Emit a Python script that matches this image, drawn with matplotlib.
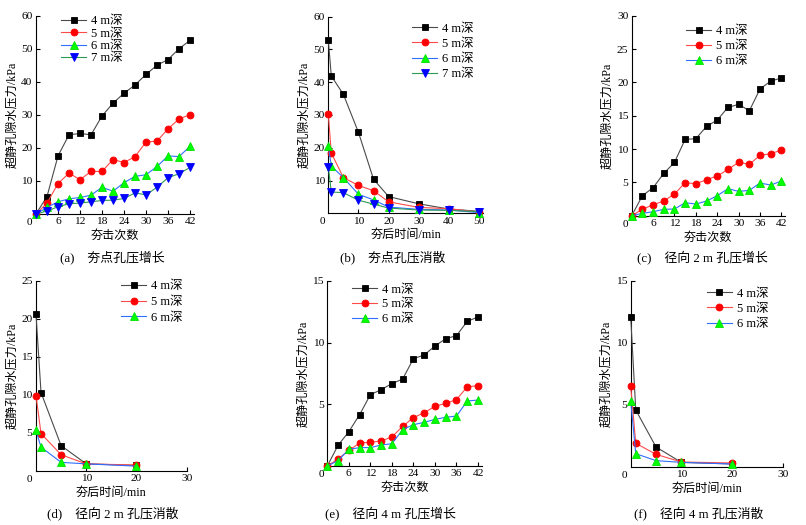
import matplotlib
matplotlib.use("Agg")
import matplotlib.pyplot as plt

plt.rcParams['font.family'] = ['Liberation Serif', 'Noto Sans CJK SC', 'DejaVu Sans']
plt.rcParams['axes.unicode_minus'] = False

# ---------------- data ----------------
blow_x = [0, 3, 6, 9, 12, 15, 18, 21, 24, 27, 30, 33, 36, 39, 42]
time_b_x = [0, 1, 5, 10, 15, 20, 30, 40, 50]
time_df_x = [0, 1, 5, 10, 20]

labels4 = ['4 m深', '5 m深', '6 m深', '7 m深']

a_4 = [0, 5.3, 17.6, 24.0, 24.4, 24.0, 29.7, 33.6, 36.6, 39.1, 42.3, 45.1, 46.8, 50.1, 52.6]
a_5 = [0, 3.3, 9.2, 12.4, 10.4, 12.9, 12.9, 16.5, 15.6, 17.4, 21.8, 22.1, 25.8, 28.8, 30.1]
a_6 = [0, 2.0, 3.7, 4.6, 5.0, 5.7, 8.1, 6.9, 9.5, 11.4, 11.9, 14.4, 17.6, 17.4, 20.5]
a_7 = [0, 0.9, 2.2, 3.1, 3.3, 3.7, 4.1, 4.2, 4.7, 6.4, 5.8, 8.1, 11.0, 12.2, 14.1]

b_4 = [52.8, 41.9, 36.3, 24.7, 10.4, 5.1, 2.9, 1.3, 0.6]
b_5 = [30.2, 18.4, 10.9, 8.5, 6.9, 3.5, 1.8, 1.4, 0.4]
b_6 = [20.5, 14.4, 10.9, 5.8, 4.1, 1.9, 1.2, 1.0, 0.2]
b_7 = [14.2, 6.5, 6.3, 4.0, 2.8, 1.6, 1.0, 0.9, 0.5]

c_4 = [0, 3.0, 4.2, 6.35, 8.0, 11.45, 11.55, 13.4, 14.35, 16.25, 16.7, 15.75, 19.0, 20.2, 20.65]
c_5 = [0, 0.95, 1.65, 2.2, 3.25, 4.95, 4.8, 5.4, 5.95, 6.95, 8.0, 7.7, 9.05, 9.3, 9.85]
c_6 = [0, 0.35, 0.6, 0.95, 1.0, 1.95, 1.75, 2.2, 3.0, 4.05, 3.65, 3.8, 4.9, 4.6, 5.2]

d_4 = [20.6, 10.3, 3.3, 0.9, 0.7]
d_5 = [9.9, 4.9, 2.1, 0.9, 0.75]
d_6 = [5.3, 3.1, 1.1, 0.9, 0.6]

e_4 = [0, 1.68, 2.78, 4.16, 5.78, 6.19, 6.68, 7.05, 8.7, 9.0, 9.73, 10.32, 10.57, 11.73, 12.08]
e_5 = [0, 0.57, 1.27, 1.86, 1.92, 2.03, 2.35, 3.22, 3.92, 4.32, 4.84, 5.08, 5.38, 6.43, 6.51]
e_6 = [0, 0.43, 1.35, 1.49, 1.49, 1.70, 1.81, 2.95, 3.35, 3.54, 3.78, 3.95, 4.05, 5.27, 5.35]

f_4 = [12.1, 4.58, 1.59, 0.35, 0.22]
f_5 = [6.5, 1.89, 1.0, 0.38, 0.30]
f_6 = [5.31, 1.05, 0.49, 0.35, 0.22]

ylabel = '超静孔隙水压力/kPa'
xlabel_blow = '夯击次数'
xlabel_time = '夯后时间/min'

captions = ['(a)　夯点孔压增长', '(b)　夯点孔压消散', '(c)　径向 2 m 孔压增长',
            '(d)　径向 2 m 孔压消散', '(e)　径向 4 m 孔压增长', '(f)　径向 4 m 孔压消散']

styles = [
    dict(color='#4a4a4a', marker='s', mfc='black', mec='black', ms=4.4),
    dict(color='#ff4a4a', marker='o', mfc='#ff0000', mec='#ff0000', ms=5.0),
    dict(color='#2f6fff', marker='^', mfc='#00ff00', mec='#00e000', ms=5.4),
    dict(color='#2f9a55', marker='v', mfc='#0000ff', mec='#0000ff', ms=5.4),
]

W, H = 806, 525
fig = plt.figure(figsize=(W / 100, H / 100), dpi=100)


def make_ax(left, right, top, bottom):
    return fig.add_axes([left / W, 1 - bottom / H, (right - left) / W, (bottom - top) / H])


panels = [
    ((36, 193.7, 16, 214), 43, 60, [6, 12, 18, 24, 30, 36, 42], [10, 20, 30, 40, 50, 60],
     blow_x, [a_4, a_5, a_6, a_7], xlabel_blow, (61, 21, 12.5), (112, 257)),
    ((328.3, 483.3, 16.7, 213.3), 51.4, 60, [10, 20, 30, 40, 50], [10, 20, 30, 40, 50, 60],
     time_b_x, [b_4, b_5, b_6, b_7], xlabel_time, (412, 28.5, 15.3), (393, 257)),
    ((631.7, 785, 15.7, 215.7), 43, 30, [6, 12, 18, 24, 30, 36, 42], [5, 10, 15, 20, 25, 30],
     blow_x, [c_4, c_5, c_6], xlabel_blow, (686, 31, 15), (702, 257)),
    ((36, 186.7, 281, 470.7), 30, 25, [10, 20, 30], [5, 10, 15, 20, 25],
     time_df_x, [d_4, d_5, d_6], xlabel_time, (121, 286.5, 15.5), (112.5, 513)),
    ((327.3, 481.6, 281, 466), 43, 15, [6, 12, 18, 24, 30, 36, 42], [5, 10, 15],
     blow_x, [e_4, e_5, e_6], xlabel_blow, (352.3, 289.5, 14.7), (390, 513)),
    ((630.7, 782.7, 281, 466.7), 30, 15, [10, 20, 30], [5, 10, 15],
     time_df_x, [f_4, f_5, f_6], xlabel_time, (706.7, 293.5, 15.3), (699, 513)),
]

FS = 8.2
LFS = 9.0

for k, (rect, xmax, ymax, xt, yt, xs, series, xl, leg, cap) in enumerate(panels):
    l, r, t, b = rect
    ax = make_ax(l, r, t, b)
    wpx, hpx = r - l, b - t
    handles = []
    for i, ys in enumerate(series):
        st = styles[i]
        h, = ax.plot(xs, ys, color=st['color'], lw=0.8, marker=st['marker'],
                     markerfacecolor=st['mfc'], markeredgecolor=st['mec'],
                     markersize=st['ms'], markeredgewidth=0.6, clip_on=False, zorder=3)
        handles.append(h)
    ax.set_xlim(0, xmax)
    ax.set_ylim(0, ymax)
    ax.set_xticks(xt)
    ax.set_yticks(yt)
    for s in ['top', 'right']:
        ax.spines[s].set_visible(False)
    for s in ['left', 'bottom']:
        ax.spines[s].set_linewidth(0.8)
    ax.tick_params(direction='in', length=3, width=0.8, labelsize=FS, pad=2.5, colors='black')
    ax.annotate('0', xy=(0, 0), xycoords='axes fraction', xytext=(-4.5, -2.8),
                textcoords='offset points', ha='center', va='top', fontsize=FS)
    ax.set_ylabel(ylabel, fontsize=8.7, labelpad=0)
    ax.yaxis.set_label_coords(-24 / wpx, 0.5)
    ax.set_xlabel(xl, fontsize=8.7, labelpad=0)
    ax.xaxis.set_label_coords(0.5, -22 / hpx)
    ax.xaxis.label.set_va('center')
    ax.yaxis.label.set_va('center')

    lx, ly, dy = leg
    fpx = LFS * 100 / 72
    row_h = 0.96 * fpx
    ax.legend(handles, labels4[:len(series)], loc='upper left',
              bbox_to_anchor=((lx - l) / wpx, 1 - (ly - row_h / 2 - t) / hpx),
              frameon=False, fontsize=LFS, borderpad=0, borderaxespad=0,
              handlelength=25 / fpx, handletextpad=0.4,
              labelspacing=max(0.0, (dy - row_h) / fpx))

    fig.text(cap[0] / W, 1 - cap[1] / H, captions[k],
             ha='center', va='center', fontsize=9.3)

fig.savefig('out.png', dpi=100)
